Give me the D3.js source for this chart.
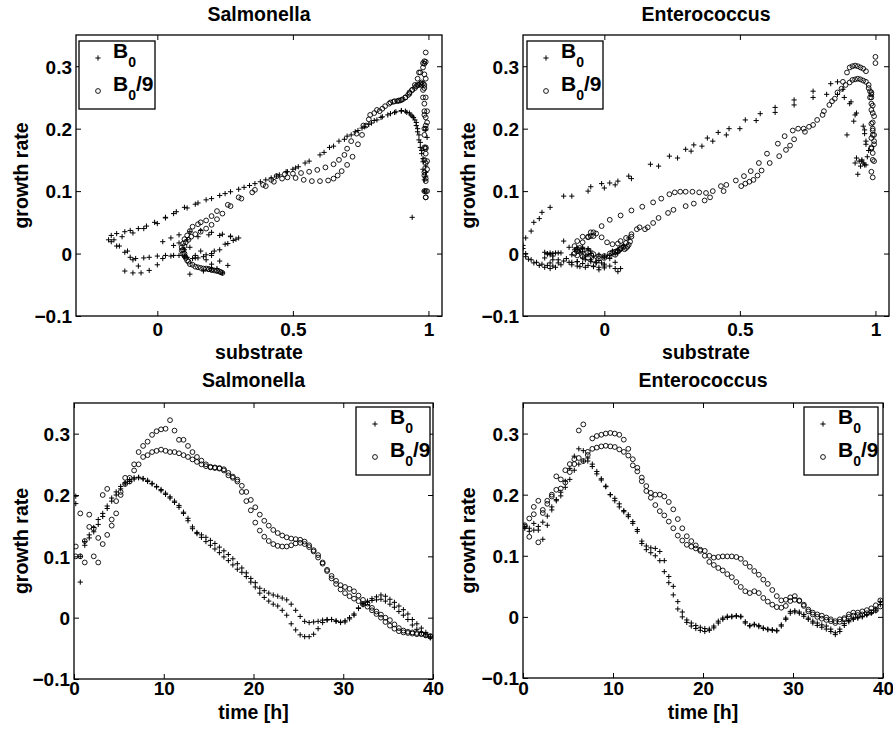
<!DOCTYPE html>
<html><head><meta charset="utf-8">
<script src="https://cdn.jsdelivr.net/npm/d3@7"></script>
<style>
body{margin:0;background:#fff}
text{font-family:"Liberation Sans",Arial,Helvetica,sans-serif;font-weight:bold;fill:#000}
</style>
</head><body>
<svg id="chart" width="893" height="731"></svg>
<script>
// ---------- data ----------
const timeH = [0.2,0.7,1.2,1.7,2.2,2.7,3.2,3.7,4.2,4.7,
 5.2,5.7,6.2,6.7,7.2,7.7,8.2,8.7,9.2,9.7,
 10.2,10.7,11.2,11.7,12.2,12.7,13.2,13.7,14.2,14.7,
 15.2,15.7,16.2,16.7,17.2,17.7,18.2,18.7,19.2,19.7,
 20.2,20.7,21.2,21.7,22.2,22.7,23.2,23.7,24.2,24.7,
 25.2,25.7,26.2,26.7,27.2,27.7,28.2,28.7,29.2,29.7,
 30.2,30.7,31.2,31.7,32.2,32.7,33.2,33.7,34.2,34.7,
 35.2,35.7,36.2,36.7,37.2,37.7,38.2,38.7,39.2,39.7];

// Salmonella growth rate, B0 (two runs)
const salB0a = [0.198,0.058,0.118,0.13,0.147,0.16,0.17,0.182,0.195,0.205,
 0.214,0.22,0.225,0.228,0.229,0.227,0.224,0.219,0.214,0.209,
 0.203,0.197,0.19,0.183,0.172,0.162,0.148,0.139,0.135,0.131,
 0.126,0.121,0.115,0.109,0.103,0.096,0.088,0.081,0.073,0.064,
 0.057,0.048,0.044,0.04,0.037,0.035,0.032,0.029,0.022,0.012,
 0.002,-0.006,-0.008,-0.007,-0.006,-0.004,-0.003,-0.003,-0.005,-0.007,
 -0.005,0.0,0.006,0.016,0.023,0.027,0.031,0.034,0.037,0.035,
 0.03,0.025,0.019,0.013,0.006,-0.003,-0.01,-0.017,-0.024,-0.031];
const salB0b = [0.186,0.1,0.124,0.135,0.14,0.152,0.165,0.178,0.19,0.2,
 0.21,0.218,0.222,0.226,0.228,0.226,0.222,0.218,0.213,0.207,
 0.201,0.195,0.188,0.18,0.17,0.158,0.145,0.137,0.131,0.124,
 0.118,0.112,0.106,0.099,0.093,0.086,0.079,0.074,0.067,0.058,
 0.05,0.04,0.033,0.027,0.022,0.019,0.012,0.004,-0.01,-0.02,
 -0.028,-0.031,-0.031,-0.027,-0.018,-0.008,-0.004,-0.003,-0.006,-0.008,
 -0.007,-0.002,0.004,0.015,0.021,0.025,0.028,0.029,0.03,0.027,
 0.022,0.017,0.01,0.004,-0.003,-0.012,-0.019,-0.024,-0.028,-0.033];
// Salmonella growth rate, B0/9 (two runs)
const salB9a = [0.116,0.17,0.09,0.148,0.10,0.09,0.2,0.21,0.16,0.19,
 0.205,0.228,0.228,0.25,0.27,0.28,0.287,0.298,0.304,0.307,
 0.308,0.322,0.305,0.29,0.29,0.28,0.27,0.262,0.256,0.25,
 0.246,0.245,0.244,0.242,0.236,0.228,0.225,0.215,0.205,0.192,
 0.18,0.168,0.158,0.15,0.143,0.138,0.134,0.131,0.129,0.128,
 0.127,0.124,0.118,0.11,0.102,0.09,0.078,0.068,0.06,0.053,
 0.05,0.047,0.043,0.036,0.029,0.023,0.016,0.01,0.005,0.0,
 -0.004,-0.011,-0.017,-0.021,-0.023,-0.024,-0.025,-0.026,-0.028,-0.03];
const salB9b = [0.10,0.10,0.125,0.168,0.145,0.13,0.12,0.135,0.15,0.17,
 0.2,0.218,0.222,0.24,0.25,0.262,0.265,0.27,0.272,0.274,
 0.272,0.27,0.27,0.268,0.265,0.262,0.258,0.254,0.25,0.247,
 0.245,0.244,0.243,0.24,0.232,0.23,0.222,0.205,0.19,0.175,
 0.155,0.142,0.132,0.125,0.12,0.117,0.116,0.116,0.118,0.121,
 0.122,0.12,0.115,0.108,0.098,0.088,0.076,0.064,0.055,0.046,
 0.04,0.035,0.031,0.027,0.022,0.018,0.012,0.006,0.0,-0.007,
 -0.013,-0.018,-0.022,-0.024,-0.025,-0.026,-0.027,-0.027,-0.029,-0.031];

// Salmonella substrate (same time points)
const salSubB0a = [0.99,0.94,0.985,0.99,0.98,0.975,0.97,0.965,0.96,0.955,
 0.95,0.94,0.93,0.915,0.9,0.88,0.86,0.83,0.81,0.79,
 0.765,0.74,0.715,0.69,0.65,0.615,0.56,0.52,0.5,0.475,
 0.45,0.42,0.38,0.34,0.3,0.25,0.2,0.15,0.11,0.06,
 0.03,0.0,-0.04,-0.07,-0.1,-0.12,-0.15,-0.17,-0.18,-0.15,
 -0.12,-0.1,-0.08,-0.05,-0.03,0.0,0.03,0.06,0.1,0.14,
 0.17,0.2,0.23,0.26,0.29,0.27,0.24,0.2,0.16,0.12,
 0.08,0.05,0.02,0.06,0.1,0.14,0.18,0.2,0.22,0.24];
const salSubB0b = [0.995,0.985,0.99,0.98,0.99,0.98,0.975,0.97,0.965,0.96,
 0.955,0.945,0.935,0.92,0.9,0.875,0.85,0.825,0.8,0.78,
 0.755,0.73,0.7,0.67,0.635,0.6,0.545,0.51,0.48,0.44,
 0.4,0.36,0.32,0.27,0.23,0.18,0.14,0.1,0.07,0.03,
 -0.01,-0.05,-0.09,-0.13,-0.16,-0.17,-0.14,-0.11,-0.09,-0.07,
 -0.12,-0.09,-0.06,-0.03,0.0,0.02,0.05,0.08,0.11,0.13,
 0.15,0.18,0.21,0.25,0.28,0.3,0.27,0.23,0.19,0.15,
 0.11,0.08,0.12,0.16,0.2,0.23,0.26,0.2,0.17,0.12];
const salSubB9a = [0.99,0.985,0.99,0.995,0.985,0.99,0.99,0.995,0.99,0.985,
 0.99,0.985,0.995,0.99,0.985,0.99,0.985,0.98,0.985,0.99,
 0.985,0.99,0.98,0.97,0.965,0.96,0.95,0.94,0.93,0.915,
 0.9,0.89,0.875,0.86,0.84,0.82,0.8,0.78,0.76,0.735,
 0.715,0.7,0.69,0.67,0.65,0.62,0.59,0.56,0.53,0.5,
 0.47,0.44,0.42,0.39,0.36,0.3,0.26,0.22,0.2,0.18,
 0.16,0.15,0.13,0.12,0.11,0.1,0.095,0.09,0.09,0.095,
 0.1,0.11,0.12,0.14,0.16,0.18,0.19,0.2,0.22,0.235];
const salSubB9b = [0.995,0.99,0.985,0.99,0.99,0.985,0.99,0.995,0.985,0.99,
 0.985,0.99,0.985,0.985,0.98,0.98,0.985,0.975,0.98,0.975,
 0.97,0.965,0.96,0.955,0.95,0.94,0.93,0.925,0.915,0.905,
 0.895,0.885,0.87,0.855,0.83,0.81,0.785,0.77,0.755,0.74,
 0.72,0.7,0.68,0.665,0.65,0.63,0.6,0.57,0.54,0.51,
 0.48,0.46,0.43,0.4,0.35,0.31,0.27,0.24,0.22,0.2,
 0.18,0.16,0.14,0.125,0.115,0.105,0.1,0.095,0.1,0.105,
 0.115,0.13,0.15,0.17,0.19,0.2,0.21,0.22,0.23,0.24];

// Enterococcus growth rate, B0 (two runs)
const entB0a = [0.148,0.145,0.153,0.142,0.127,0.15,0.175,0.192,0.204,0.222,
 0.243,0.263,0.275,0.272,0.26,0.246,0.234,0.224,0.214,0.2,
 0.194,0.185,0.174,0.167,0.156,0.143,0.124,0.116,0.113,0.112,
 0.107,0.092,0.066,0.05,0.025,0.008,-0.005,-0.01,-0.014,-0.017,
 -0.019,-0.02,-0.015,-0.007,-0.002,0.001,0.001,0.002,0.0,-0.01,
 -0.015,-0.012,-0.014,-0.018,-0.02,-0.021,-0.022,-0.013,-0.002,0.009,
 0.01,0.008,0.004,-0.002,-0.007,-0.01,-0.013,-0.015,-0.02,-0.026,
 -0.02,-0.011,-0.006,-0.003,-0.001,0.001,0.004,0.007,0.013,0.025];
const entB0b = [0.145,0.14,0.142,0.148,0.155,0.165,0.18,0.19,0.198,0.212,
 0.225,0.24,0.25,0.255,0.255,0.25,0.238,0.226,0.213,0.2,
 0.19,0.18,0.172,0.164,0.153,0.14,0.12,0.11,0.105,0.1,
 0.092,0.074,0.056,0.036,0.013,0.0,-0.009,-0.015,-0.019,-0.022,
 -0.024,-0.022,-0.018,-0.01,-0.004,-0.001,0.0,0.001,0.001,-0.008,
 -0.014,-0.013,-0.016,-0.019,-0.021,-0.022,-0.023,-0.015,-0.004,0.006,
 0.008,0.006,0.001,-0.004,-0.01,-0.014,-0.017,-0.02,-0.024,-0.029,
 -0.024,-0.014,-0.008,-0.004,-0.002,0.0,0.003,0.006,0.01,0.02];
// Enterococcus growth rate, B0/9 (two runs)
const entB9a = [0.15,0.131,0.18,0.19,0.17,0.19,0.197,0.23,0.225,0.24,
 0.25,0.258,0.305,0.315,0.265,0.292,0.296,0.298,0.3,0.301,
 0.3,0.298,0.29,0.275,0.258,0.244,0.228,0.214,0.203,0.2,
 0.2,0.197,0.188,0.176,0.16,0.145,0.132,0.124,0.117,0.11,
 0.108,0.1,0.097,0.098,0.099,0.099,0.099,0.098,0.095,0.088,
 0.082,0.075,0.069,0.061,0.054,0.044,0.034,0.027,0.028,0.032,
 0.034,0.027,0.02,0.012,0.007,0.004,0.002,-0.001,-0.004,-0.007,
 -0.004,-0.002,0.004,0.007,0.007,0.009,0.011,0.014,0.019,0.027];
const entB9b = [0.148,0.161,0.168,0.122,0.175,0.185,0.2,0.208,0.21,0.22,
 0.237,0.25,0.26,0.255,0.27,0.275,0.277,0.279,0.28,0.279,
 0.278,0.274,0.27,0.264,0.248,0.238,0.222,0.206,0.195,0.183,
 0.173,0.166,0.156,0.145,0.133,0.125,0.118,0.115,0.112,0.108,
 0.1,0.09,0.085,0.08,0.076,0.07,0.065,0.057,0.049,0.042,
 0.039,0.042,0.039,0.031,0.025,0.02,0.016,0.015,0.018,0.026,
 0.028,0.026,0.018,0.009,0.004,0.0,-0.003,-0.005,-0.007,-0.01,
 -0.008,-0.004,0.0,0.002,0.003,0.004,0.006,0.008,0.011,0.017];

// Enterococcus substrate (same time points)
const entSubB0a = [0.94,0.955,0.93,0.96,0.935,0.95,0.965,0.96,0.955,0.925,
 0.91,0.88,0.86,0.835,0.77,0.7,0.63,0.575,0.52,0.46,
 0.42,0.38,0.33,0.3,0.24,0.17,0.09,0.05,0.02,-0.01,
 -0.05,-0.15,-0.23,-0.26,-0.29,-0.3,-0.29,-0.27,-0.25,-0.23,
 -0.21,-0.19,-0.2,-0.22,-0.2,-0.18,-0.2,-0.22,-0.21,-0.19,
 -0.17,-0.15,-0.13,-0.12,-0.1,-0.09,-0.07,-0.1,-0.12,-0.1,
 -0.08,-0.06,-0.05,-0.06,-0.08,-0.07,-0.05,-0.03,0.0,-0.02,
 -0.04,-0.02,0.0,0.02,0.04,0.05,0.03,0.05,0.07,0.09];
const entSubB0b = [0.925,0.945,0.965,0.95,0.97,0.975,0.965,0.895,0.96,0.92,
 0.93,0.905,0.885,0.86,0.82,0.77,0.7,0.63,0.56,0.5,
 0.45,0.4,0.36,0.32,0.27,0.2,0.1,0.04,0.0,-0.06,
 -0.12,-0.2,-0.24,-0.27,-0.3,-0.29,-0.28,-0.26,-0.24,-0.22,
 -0.2,-0.18,-0.16,-0.17,-0.19,-0.21,-0.19,-0.17,-0.16,-0.14,
 -0.12,-0.1,-0.08,-0.06,-0.04,-0.02,0.0,-0.01,-0.04,-0.06,
 -0.08,-0.1,-0.09,-0.07,-0.05,-0.03,0.0,0.02,0.04,0.05,
 0.06,0.04,0.02,0.0,-0.02,-0.05,-0.08,-0.11,-0.13,-0.15];
const entSubB9a = [0.99,0.985,0.995,0.99,0.985,0.995,0.99,0.985,0.99,0.985,
 0.98,0.985,1.0,1.0,0.975,0.965,0.955,0.945,0.935,0.925,
 0.915,0.905,0.895,0.88,0.86,0.84,0.81,0.785,0.755,0.735,
 0.715,0.695,0.665,0.64,0.6,0.57,0.54,0.515,0.485,0.45,
 0.43,0.4,0.375,0.35,0.325,0.3,0.28,0.26,0.24,0.21,
 0.18,0.14,0.1,0.06,0.02,-0.01,-0.04,-0.06,-0.05,-0.03,
 -0.05,-0.08,-0.1,-0.11,-0.1,-0.08,-0.06,-0.04,-0.02,0.0,
 0.02,0.04,0.05,0.06,0.075,0.08,0.085,0.09,0.095,0.1];
const entSubB9b = [0.995,0.99,0.985,0.99,0.995,0.985,0.99,0.985,0.99,0.995,
 0.99,0.985,0.98,0.985,0.975,0.965,0.955,0.945,0.935,0.925,
 0.915,0.905,0.89,0.875,0.85,0.83,0.805,0.77,0.74,0.7,
 0.685,0.67,0.645,0.61,0.58,0.565,0.55,0.535,0.52,0.505,
 0.44,0.39,0.37,0.33,0.3,0.255,0.235,0.2,0.18,0.16,
 0.15,0.13,0.12,0.1,0.08,0.06,0.05,0.03,0.01,-0.01,
 -0.04,-0.06,-0.08,-0.09,-0.1,-0.11,-0.1,-0.08,-0.06,-0.04,
 -0.02,0.0,0.02,0.03,0.04,0.05,0.055,0.06,0.07,0.08];

const growthTicks = [-0.1, 0, 0.1, 0.2, 0.3];
const substrateTicks = [0, 0.5, 1];
const timeTicks = [0, 10, 20, 30, 40];
const growthDomain = [-0.1, 0.35];
const substrateDomain = [-0.3, 1.05];
const timeDomain = [0, 40];
const titles = ["Salmonella", "Enterococcus"];
const xLabels = ["substrate", "time [h]"];
const yLabel = "growth rate";
const legendNames = ["B0", "B0/9"];

// ---------- drawing ----------
const svg = d3.select("#chart");
svg.append("rect").attr("width", 893).attr("height", 731).attr("fill", "#fff");

const fmtGrowth = d => d === 0 ? "0" : (d < 0 ? "\u2212" : "") + Math.abs(d).toFixed(1);
const fmtPlain = d => d < 0 ? "\u2212" + Math.abs(d) : String(d);

function plusPath(cx, cy, h) {
  return `M${cx - h},${cy}H${cx + h}M${cx},${cy - h}V${cy + h}`;
}

let clipCount = 0;
function panel(cfg) {
  const x = d3.scaleLinear().domain(cfg.xDomain).range([cfg.left, cfg.right]);
  const y = d3.scaleLinear().domain(growthDomain).range([cfg.bottom, cfg.top]);
  const g = svg.append("g");
  const w = cfg.right - cfg.left, h = cfg.bottom - cfg.top;
  const cid = "clip" + (clipCount++);
  g.append("clipPath").attr("id", cid).append("rect")
    .attr("x", cfg.left).attr("y", cfg.top).attr("width", w).attr("height", h);

  const plot = g.append("g").attr("clip-path", `url(#${cid})`);
  cfg.plusCurves.forEach(([xs, ys]) => {
    const pts = xs.map((v, i) => [v, ys[i]]);
    plot.append("g").selectAll("path").data(pts).join("path")
      .attr("d", d => plusPath(x(d[0]), y(d[1]), 2.6))
      .attr("stroke", "#000").attr("stroke-width", 1).attr("fill", "none");
  });
  cfg.circleCurves.forEach(([xs, ys]) => {
    const pts = xs.map((v, i) => [v, ys[i]]);
    plot.append("g").selectAll("circle").data(pts).join("circle")
      .attr("cx", d => x(d[0])).attr("cy", d => y(d[1])).attr("r", 2.4)
      .attr("stroke", "#000").attr("stroke-width", 0.9).attr("fill", "none");
  });

  const tickLen = 5;
  const axB = g.append("g").attr("transform", `translate(0,${cfg.bottom})`)
    .call(d3.axisBottom(x).tickValues(cfg.xTicks).tickSize(-tickLen).tickFormat(cfg.xFmt));
  axB.selectAll("text").attr("y", cfg.tickBaseline - cfg.bottom).attr("dy", null)
    .style("font-size", "19px").attr("fill", "#000");
  const axT = g.append("g").attr("transform", `translate(0,${cfg.top})`)
    .call(d3.axisTop(x).tickValues(cfg.xTicks).tickSize(-tickLen).tickFormat(""));
  const axL = g.append("g").attr("transform", `translate(${cfg.left},0)`)
    .call(d3.axisLeft(y).tickValues(growthTicks).tickSize(-tickLen).tickFormat(fmtGrowth));
  axL.selectAll("text").attr("x", -4).attr("dy", "0.36em")
    .style("font-size", "19px").attr("fill", "#000");
  const axR = g.append("g").attr("transform", `translate(${cfg.right},0)`)
    .call(d3.axisRight(y).tickValues(growthTicks).tickSize(-tickLen).tickFormat(""));
  [axB, axT, axL, axR].forEach(a => {
    a.attr("font-family", null).attr("font-size", null);
    a.select(".domain").remove();
    a.selectAll("line").attr("stroke", "#000").attr("stroke-width", 1);
  });
  g.append("rect").attr("x", cfg.left).attr("y", cfg.top).attr("width", w).attr("height", h)
    .attr("fill", "none").attr("stroke", "#000").attr("stroke-width", 1.3);

  g.append("text").attr("x", (cfg.left + cfg.right) / 2).attr("y", cfg.titleY)
    .attr("text-anchor", "middle").style("font-size", "19.5px").text(cfg.title);
  g.append("text").attr("x", (cfg.left + cfg.right) / 2).attr("y", cfg.xLabelY)
    .attr("text-anchor", "middle").style("font-size", "19.5px").text(cfg.xLabel);
  g.append("text").attr("transform", `translate(${cfg.yLabelX},${(cfg.top + cfg.bottom) / 2}) rotate(-90)`)
    .attr("text-anchor", "middle").style("font-size", "19.5px").text(yLabel);

  const L = cfg.legend;
  const lg = g.append("g");
  lg.append("rect").attr("x", L.x).attr("y", L.y).attr("width", L.w).attr("height", 68)
    .attr("fill", "#fff").attr("stroke", "#000").attr("stroke-width", 1.3);
  lg.append("path").attr("d", plusPath(L.x + 19, L.y + 17, 2.6))
    .attr("stroke", "#000").attr("stroke-width", 1).attr("fill", "none");
  lg.append("circle").attr("cx", L.x + 19).attr("cy", L.y + 50).attr("r", 2.4)
    .attr("stroke", "#000").attr("stroke-width", 0.9).attr("fill", "none");
  legendNames.forEach((name, i) => {
    const t = lg.append("text").attr("x", L.x + 34).attr("y", L.y + 17 + i * 33).style("font-size", "21px");
    t.append("tspan").text(name.charAt(0));
    t.append("tspan").attr("dy", 8.5).style("font-size", "14px").text(name.charAt(1));
    if (name.length > 2) t.append("tspan").attr("dy", -8.5).text(name.slice(2));
  });
}

const topCfg = {top: 35, bottom: 316, titleY: 21, tickBaseline: 336, xLabelY: 359,
  xDomain: substrateDomain, xTicks: substrateTicks, xFmt: fmtPlain, xLabel: xLabels[0]};
const botCfg = {top: 403, titleY: 387, tickBaseline: 695, xLabelY: 719,
  xDomain: timeDomain, xTicks: timeTicks, xFmt: fmtPlain, xLabel: xLabels[1]};

panel(Object.assign({}, topCfg, {left: 76, right: 442, yLabelX: 28, title: titles[0],
  plusCurves: [[salSubB0a, salB0a], [salSubB0b, salB0b]],
  circleCurves: [[salSubB9a, salB9a], [salSubB9b, salB9b]],
  legend: {x: 79, y: 41, w: 76}}));
panel(Object.assign({}, topCfg, {left: 523, right: 889, yLabelX: 475, title: titles[1],
  plusCurves: [[entSubB0a, entB0a], [entSubB0b, entB0b]],
  circleCurves: [[entSubB9a, entB9a], [entSubB9b, entB9b]],
  legend: {x: 527, y: 41, w: 76}}));
panel(Object.assign({}, botCfg, {left: 74, right: 433, bottom: 679, yLabelX: 28, title: titles[0],
  plusCurves: [[timeH, salB0a], [timeH, salB0b]],
  circleCurves: [[timeH, salB9a], [timeH, salB9b]],
  legend: {x: 356, y: 407, w: 74}}));
panel(Object.assign({}, botCfg, {left: 523, right: 883, bottom: 678, yLabelX: 475, title: titles[1],
  plusCurves: [[timeH, entB0a], [timeH, entB0b]],
  circleCurves: [[timeH, entB9a], [timeH, entB9b]],
  legend: {x: 804, y: 407, w: 74}}));
</script>
</body></html>
